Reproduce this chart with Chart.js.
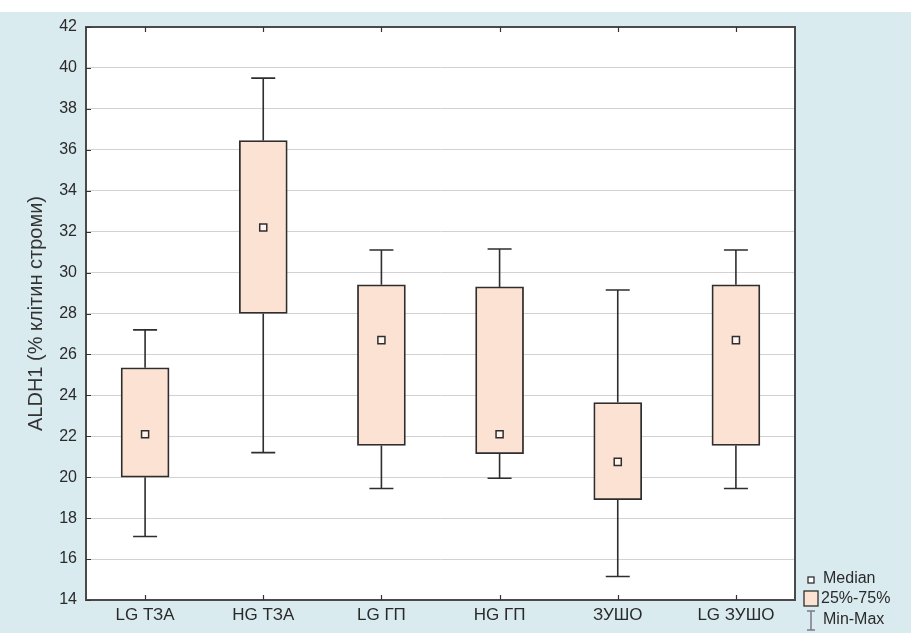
<!DOCTYPE html>
<html>
<head>
<meta charset="utf-8">
<script src="https://cdn.jsdelivr.net/npm/chart.js@4"></script>
<style>
  html, body { margin: 0; padding: 0; background: #ffffff; }
  #wrap { width: 911px; height: 633px; }
</style>
</head>
<body>
<div id="wrap"><canvas id="c" width="911" height="633"></canvas></div>
<script>
// Groups along the category axis
const categories = ['LG ТЗА', 'HG ТЗА', 'LG ГП', 'HG ГП', 'ЗУШО', 'LG ЗУШО'];

// Box-plot statistics for ALDH1 per group
const minValues    = [17.1, 21.2, 19.45, 19.95, 15.15, 19.45];
const q1Values     = [20.0, 28.0, 21.55, 21.15, 18.9, 21.55];
const medianValues = [22.1, 32.2, 26.7, 22.1, 20.75, 26.7];
const q3Values     = [25.35, 36.45, 29.4, 29.3, 23.65, 29.4];
const maxValues    = [27.2, 39.5, 31.1, 31.15, 29.15, 31.1];

// Value axis ticks
const yTicks = [14, 16, 18, 20, 22, 24, 26, 28, 30, 32, 34, 36, 38, 40, 42];

const legendLabels = ['Median', '25%-75%', 'Min-Max'];

const BOX_FILL = '#fce2d3';
const INK = '#2e2e2e';
const TEXT = '#2a2a2a';
const PAGE_BG = '#daebf0';
const FONT = '"Liberation Sans", Arial, sans-serif';

const boxPlotDecor = {
  id: 'boxPlotDecor',
  beforeDraw(chart) {
    const { ctx, chartArea: a, width, height } = chart;
    ctx.save();
    ctx.fillStyle = '#ffffff';
    ctx.fillRect(0, 0, width, height);
    ctx.fillStyle = PAGE_BG;
    ctx.fillRect(0, 12, width, height - 12);
    ctx.fillStyle = '#ffffff';
    ctx.fillRect(a.left, a.top, a.right - a.left, a.bottom - a.top);
    ctx.restore();
  },
  beforeDatasetsDraw(chart) {
    const { ctx } = chart;
    const xs = chart.scales.x, ys = chart.scales.y;
    ctx.save();
    ctx.strokeStyle = INK;
    ctx.lineWidth = 1.6;
    categories.forEach((c, i) => {
      const cx = xs.getPixelForValue(i);
      const yMin = ys.getPixelForValue(minValues[i]);
      const yMax = ys.getPixelForValue(maxValues[i]);
      const yQ1 = ys.getPixelForValue(q1Values[i]);
      const yQ3 = ys.getPixelForValue(q3Values[i]);
      ctx.beginPath();
      ctx.moveTo(cx, yQ3); ctx.lineTo(cx, yMax);
      ctx.moveTo(cx, yQ1); ctx.lineTo(cx, yMin);
      ctx.moveTo(cx - 12, yMax); ctx.lineTo(cx + 12, yMax);
      ctx.moveTo(cx - 12, yMin); ctx.lineTo(cx + 12, yMin);
      ctx.stroke();
    });
    ctx.restore();
  },
  afterDatasetsDraw(chart) {
    const { ctx, chartArea: a } = chart;
    const xs = chart.scales.x, ys = chart.scales.y;
    ctx.save();
    // plot frame
    ctx.strokeStyle = '#4a4a4a';
    ctx.lineWidth = 2;
    ctx.strokeRect(a.left, a.top, a.right - a.left, a.bottom - a.top);
    // inward tick marks
    ctx.strokeStyle = '#333333';
    ctx.lineWidth = 1.2;
    ctx.beginPath();
    yTicks.forEach(v => {
      const py = Math.round(ys.getPixelForValue(v)) + 0.5;
      ctx.moveTo(a.left, py); ctx.lineTo(a.left + 5, py);
    });
    categories.forEach((c, i) => {
      const px = Math.round(xs.getPixelForValue(i)) + 0.5;
      ctx.moveTo(px, a.bottom); ctx.lineTo(px, a.bottom - 5);
      ctx.moveTo(px, a.top); ctx.lineTo(px, a.top + 5);
    });
    ctx.stroke();
    ctx.restore();
  },
  afterDraw(chart) {
    const { ctx } = chart;
    ctx.save();
    // median glyph
    ctx.fillStyle = '#ffffff';
    ctx.strokeStyle = INK;
    ctx.lineWidth = 1.3;
    ctx.fillRect(808, 577, 6, 6);
    ctx.strokeRect(808, 577, 6, 6);
    // quartile box glyph
    ctx.fillStyle = BOX_FILL;
    ctx.fillRect(804, 591, 14, 15);
    ctx.strokeRect(804, 591, 14, 15);
    // whisker glyph
    ctx.strokeStyle = '#7a7a86';
    ctx.lineWidth = 1.5;
    ctx.beginPath();
    ctx.moveTo(811, 611); ctx.lineTo(811, 630);
    ctx.moveTo(807, 611); ctx.lineTo(815, 611);
    ctx.moveTo(807, 630); ctx.lineTo(815, 630);
    ctx.stroke();
    // labels
    ctx.fillStyle = TEXT;
    ctx.font = '16px ' + FONT;
    ctx.textBaseline = 'middle';
    ctx.textAlign = 'left';
    ctx.fillText(legendLabels[0], 823, 579);
    ctx.fillText(legendLabels[1], 821, 599);
    ctx.fillText(legendLabels[2], 823, 620);
    ctx.restore();
  }
};

new Chart(document.getElementById('c'), {
  type: 'bar',
  data: {
    labels: categories,
    datasets: [
      {
        type: 'bar',
        label: '25%-75%',
        data: q1Values.map((v, i) => [v, q3Values[i]]),
        backgroundColor: BOX_FILL,
        borderColor: INK,
        borderWidth: 1.8,
        borderSkipped: false,
        barThickness: 48,
        order: 2
      },
      {
        type: 'line',
        label: 'Median',
        data: medianValues,
        showLine: false,
        pointStyle: 'rect',
        pointRadius: 5,
        pointBackgroundColor: '#fff4ee',
        pointBorderColor: INK,
        pointBorderWidth: 1.5,
        order: 1
      }
    ]
  },
  options: {
    responsive: false,
    animation: false,
    events: [],
    layout: { padding: { top: 27, right: 116, bottom: 0, left: 0 } },
    plugins: {
      legend: { display: false },
      tooltip: { enabled: false }
    },
    scales: {
      x: {
        offset: true,
        grid: { display: false, drawTicks: false },
        border: { display: false },
        ticks: {
          padding: 5,
          color: TEXT,
          font: { family: FONT, size: 17 }
        },
        afterFit(scale) { scale.height = 33; }
      },
      y: {
        min: 14,
        max: 42,
        afterBuildTicks(scale) { scale.ticks = yTicks.map(v => ({ value: v })); },
        grid: { color: '#d2d2d2', lineWidth: 1, drawTicks: false },
        border: { display: false },
        ticks: {
          padding: 9,
          color: TEXT,
          font: { family: FONT, size: 16 }
        },
        title: {
          display: true,
          text: 'ALDH1 (% клітин строми)',
          color: '#333333',
          font: { family: FONT, size: 20 },
          padding: { top: 24, bottom: 0 }
        },
        afterFit(scale) { scale.width = 86; }
      }
    }
  },
  plugins: [boxPlotDecor]
});
</script>
</body>
</html>
